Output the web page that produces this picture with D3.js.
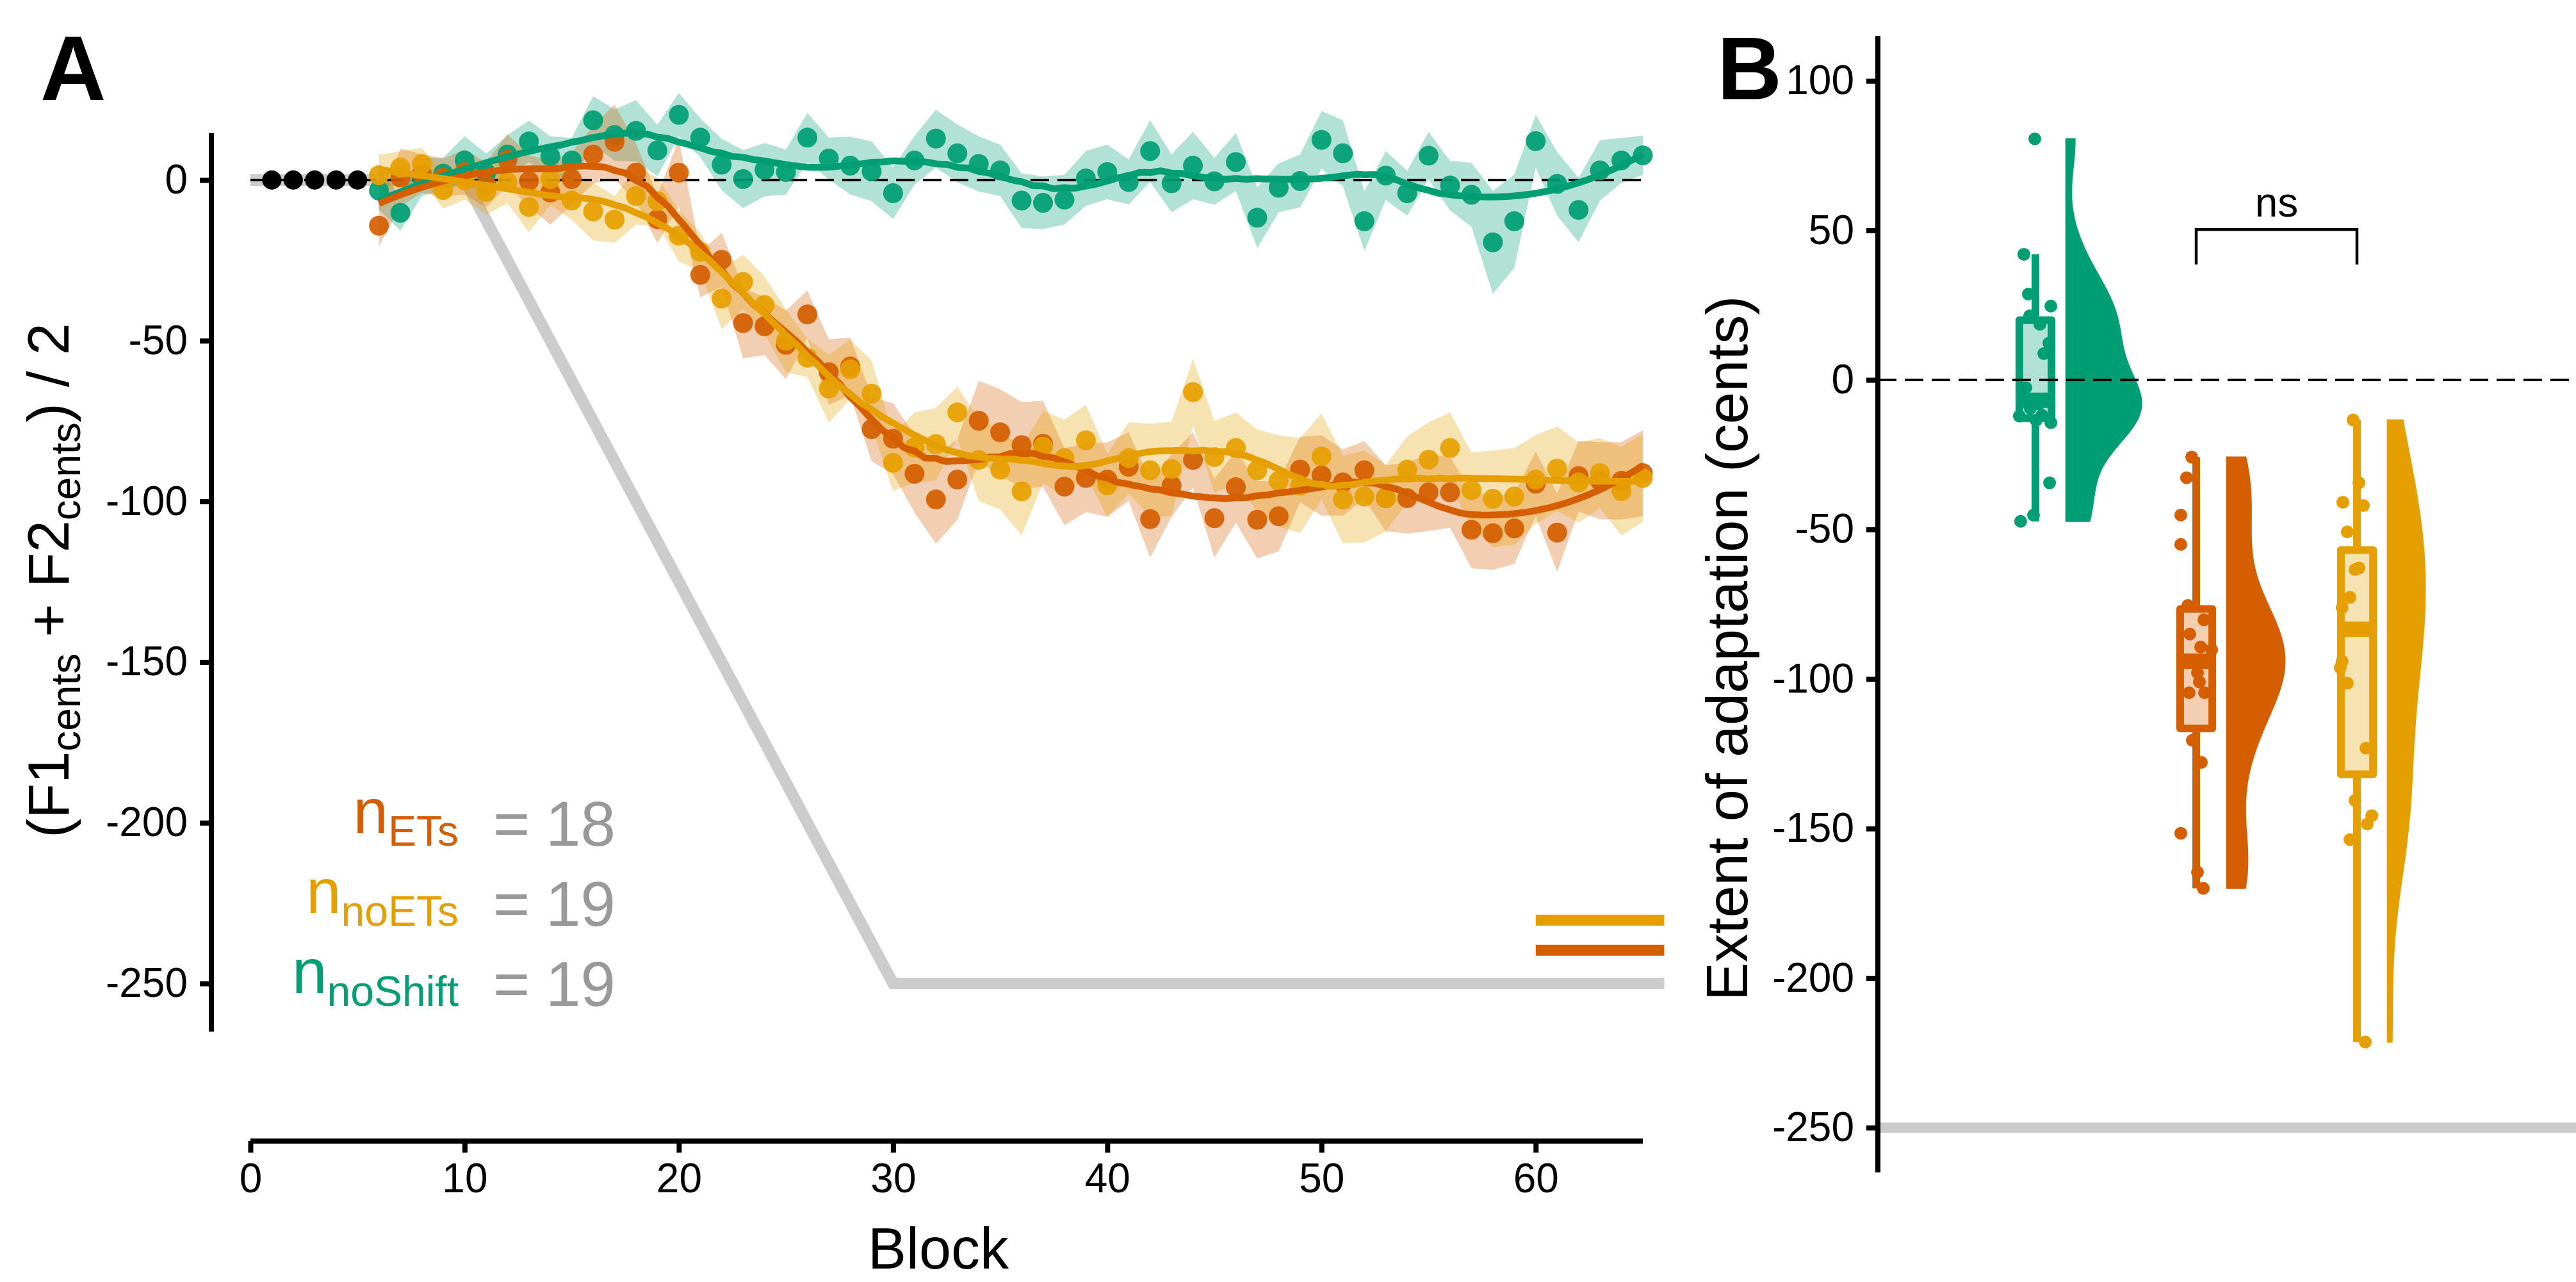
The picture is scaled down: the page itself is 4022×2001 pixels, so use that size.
<!DOCTYPE html>
<html>
<head>
<meta charset="utf-8">
<script src="https://cdn.jsdelivr.net/npm/d3@7"></script>
<style>
  html, body { margin: 0; padding: 0; background: #fff; }
  svg { display: block; font-family: "Liberation Sans", Arial, Helvetica, sans-serif; }
  text { white-space: pre; }
</style>
</head>
<body>
<svg id="chart" width="4022" height="2001"></svg>
<script>
// ---- Panel A data (mean per block, and half-width of the shaded band) ----
const baselineBlocks = [1, 2, 3, 4, 5];
const baselineValues = [0, 0, 0, 0, 0];
const blocks = d3.range(6, 66);

const noShiftMean = [-3.3, -10.2, 1, 2, 6.1, 2.2, 7.9, 12, 7.4, 6.1, 18.6, 14, 15.3, 9.2, 20.3, 13.2, 4.8, 0.3, 3.2, 2.5,
  13.2, 6.7, 4.5, 2.7, -4.1, 6.1, 12.9, 8.3, 5, 3, -6.4, -7.1, -6.1, 0.5, 2.5, -0.6, 9, -1, 4.5, -0.4,
  5.6, -11.7, -2.4, -0.3, 12.5, 8.3, -12.8, 1.4, -4.1, 7.6, -1.7, -4.6, -19.4, -12.8, 12.1, -1.2, -9.3, 3, 6.1, 7.7];
const etsMean = [-14.2, 0.8, 2, 0.7, 2.5, -1.5, 6.3, -0.3, -3.9, 0.3, 7.9, 11.9, 2.3, -12.2, 2.3, -29.5, -24.8, -44.5, -45.5, -51.3,
  -41.8, -59.8, -58, -77.5, -80.5, -91.4, -99.4, -93.2, -74.9, -78.5, -82.5, -82.1, -95.4, -92.7, -93.2, -89.2, -105.5, -95.1, -87.1, -105.2,
  -95.6, -105.7, -104.6, -90.1, -91.9, -94.1, -90.3, -99, -99, -97.2, -97.2, -108.8, -109.9, -108.4, -94.5, -109.7, -92.1, -93.6, -93.6, -91.2];
const noEtsMean = [1.5, 3.9, 5, -3.1, -0.1, -3.7, -0.6, -8.4, 0.3, -6.4, -9.8, -12.3, -5, -6.6, -17.3, -22.4, -36.9, -31.7, -38.9, -50,
  -55.3, -64.9, -58.9, -66.5, -88, -83.2, -82.2, -72.3, -87.1, -90.1, -96.9, -83, -86.5, -81, -95, -86.5, -90.3, -89.9, -66, -86.2,
  -83.4, -90.3, -93.6, -95.1, -86, -99.4, -98.5, -99, -90.1, -87, -83.4, -96.5, -99.2, -98.5, -93.2, -89.8, -94.1, -91.2, -96.8, -92.7];

const noShiftSE = [6, 5.5, 6, 5, 7.5, 6, 6, 6.5, 6.2, 7, 7.5, 8, 9.5, 8, 6.8, 6, 8, 9, 8.3, 7,
  7.7, 6.5, 9, 9.3, 8, 7.6, 9, 9, 8.6, 8, 8.5, 8.2, 7.7, 8.5, 8.5, 7, 9.6, 9, 10.5, 7.3,
  9, 9.5, 7.6, 8.2, 9, 10.3, 9.3, 7.6, 7, 7.4, 7.7, 10, 16, 14.5, 8.2, 9.9, 10, 9.4, 7, 6.1];
const etsSE = [6.4, 9, 6, 6, 7, 7, 8, 8, 10, 8, 9, 11.6, 9, 7.5, 10.5, 7, 8.4, 11, 9, 10.7,
  7.4, 10.2, 9, 10, 11, 12, 13.8, 12.5, 12.4, 13.4, 13.4, 13.4, 12, 10.6, 11.6, 10.7, 12, 9.7, 8.6, 12.3,
  11, 12, 11, 10.2, 12.5, 10.3, 9, 10.3, 11, 12, 11, 12, 11.4, 11, 10, 12.2, 11, 12, 12, 13.4];
const noEtsSE = [6.4, 5, 5, 5.7, 6, 7.1, 6.7, 7.8, 8, 6, 9, 7.2, 9, 7.4, 8, 6, 9.5, 8.4, 8.9, 9.8,
  6, 10.5, 9.3, 10.3, 8.8, 10.9, 11.3, 8, 12.8, 12.4, 13.7, 11.2, 12, 11, 9.8, 11.1, 14.5, 14.7, 10.4, 11.2,
  11.1, 12.7, 14.2, 14.8, 13.4, 13.6, 14.3, 10.3, 10.3, 11.6, 11.1, 11.7, 15, 15.1, 13.8, 13.1, 12.5, 10.9, 13.8, 13.7];

// perturbation profile and final shift markers
const perturbBlocks = [0, 10, 30, 66];
const perturbValues = [0, 0, -250, -250];
const shiftGroups = ['noETs', 'ETs'];
const shiftValues = [-230.3, -239.7];
const shiftBlocks = [60, 66];

const nGroups = ['ETs', 'noETs', 'noShift'];
const nCounts = [18, 19, 19];

const xTicksA = [0, 10, 20, 30, 40, 50, 60];
const yTicksA = [0, -50, -100, -150, -200, -250];

// ---- Panel B data (extent of adaptation per participant) ----
const groupsB = ['noShift', 'ETs', 'noETs'];
const extentNoShift = [-47.3, -45.2, -34.4, -14.3, -13.5, -12.1, -11.8, -9.5, -8.0, -6.8, -2.6, 8.8, 12.3, 18.6, 21.4, 24.7, 28.7, 42.0, 80.6];
const extentEts = [-170, -164.6, -151.6, -127.9, -120.5, -104.6, -104.6, -101, -97.9, -90.2, -89.3, -85, -80.2, -75.4, -55, -45.2, -32.7, -25.8];
const extentNoEts = [-221.4, -153.7, -148.5, -145.7, -140.6, -123.1, -101.4, -96.2, -94.1, -83.4, -76.1, -72.7, -63.4, -62.9, -50.8, -42, -40.9, -34.4, -13.4];
// horizontal jitter of the dots, in group units
const jitterNoShift = [-0.092, -0.012, 0.088, 0.096, 0.004, -0.1, 0.04, -0.032, 0.02, -0.06, -0.06, 0.052, 0.084, 0.028, -0.036, 0.096, -0.044, -0.072, -0.004];
const jitterEts = [0.044, 0.008, -0.096, 0.032, -0.024, -0.044, 0.052, 0.02, 0.008, 0.096, 0.028, -0.04, 0.048, -0.052, -0.096, -0.096, -0.06, -0.028];
const jitterNoEts = [0.052, -0.044, 0.064, 0.092, -0.012, 0.056, -0.06, -0.104, -0.092, 0, -0.092, -0.044, -0.012, 0.012, -0.06, 0.04, -0.088, 0.012, -0.024];
const yTicksB = [100, 50, 0, -50, -100, -150, -200, -250];

const colors = { noShift: '#009E73', ETs: '#D55E00', noETs: '#E69F00' };
const grey = '#cccccc';

const svg = d3.select('#chart');

/**
 * Local quadratic loess (tricube weights), evaluated on a grid.
 */
const loess = function (xs, ys, span, grid) {
  const q = Math.floor(span * xs.length);
  const det3 = (m) => m[0][0] * (m[1][1] * m[2][2] - m[1][2] * m[2][1])
    - m[0][1] * (m[1][0] * m[2][2] - m[1][2] * m[2][0])
    + m[0][2] * (m[1][0] * m[2][1] - m[1][1] * m[2][0]);
  return grid.map((x0) => {
    const dist = xs.map((x) => Math.abs(x - x0));
    const h = dist.slice().sort((a, b) => a - b)[q - 1];
    const s = [0, 0, 0, 0, 0];
    const r = [0, 0, 0];
    xs.forEach((x, i) => {
      const u = dist[i] / h;
      if (u >= 1) return;
      const w = Math.pow(1 - u * u * u, 3);
      const t = x - x0;
      s[0] += w; s[1] += w * t; s[2] += w * t * t; s[3] += w * t * t * t; s[4] += w * t * t * t * t;
      r[0] += w * ys[i]; r[1] += w * t * ys[i]; r[2] += w * t * t * ys[i];
    });
    const M = [[s[0], s[1], s[2]], [s[1], s[2], s[3]], [s[2], s[3], s[4]]];
    const Mx = [[r[0], s[1], s[2]], [r[1], s[2], s[3]], [r[2], s[3], s[4]]];
    return [x0, det3(Mx) / det3(M)];
  });
};

/**
 * Gaussian kernel density with the nrd0 bandwidth, trimmed to the data range.
 */
const density = function (values) {
  const v = values.slice().sort(d3.ascending);
  const iqr = d3.quantile(v, 0.75) - d3.quantile(v, 0.25);
  const bw = 0.9 * Math.min(d3.deviation(v), iqr / 1.34) * Math.pow(v.length, -0.2);
  const lo = v[0];
  const hi = v[v.length - 1];
  return d3.range(512).map((i) => {
    const y = lo + (hi - lo) * i / 511;
    const d = d3.mean(v, (p) => Math.exp(-0.5 * ((y - p) / bw) ** 2)) / (bw * Math.sqrt(2 * Math.PI));
    return [y, d];
  });
};

// =================== Panel A ===================
const xA = d3.scaleLinear().domain([0, 65]).range([391, 2565]);
const yA = d3.scaleLinear().domain([0, -250]).range([281, 1535]);

const panelA = svg.append('g');

// perturbation profile
panelA.append('path')
  .datum(perturbBlocks.map((b, i) => [b, perturbValues[i]]))
  .attr('d', d3.line().x((d) => xA(d[0])).y((d) => yA(d[1])))
  .attr('fill', 'none')
  .attr('stroke', grey)
  .attr('stroke-width', 18);

// shift markers at the right edge
shiftGroups.forEach((g, i) => {
  panelA.append('line')
    .attr('x1', xA(shiftBlocks[0]))
    .attr('x2', xA(shiftBlocks[1]))
    .attr('y1', yA(shiftValues[i]))
    .attr('y2', yA(shiftValues[i]))
    .attr('stroke', colors[g])
    .attr('stroke-width', 17);
});

const seriesA = [
  { key: 'noShift', mean: noShiftMean, se: noShiftSE },
  { key: 'ETs', mean: etsMean, se: etsSE },
  { key: 'noETs', mean: noEtsMean, se: noEtsSE }
];

// shaded bands
seriesA.forEach((s) => {
  panelA.append('path')
    .datum(blocks.map((b, i) => ({ b, lo: s.mean[i] - s.se[i], hi: s.mean[i] + s.se[i] })))
    .attr('d', d3.area().x((d) => xA(d.b)).y0((d) => yA(d.lo)).y1((d) => yA(d.hi)))
    .attr('fill', colors[s.key])
    .attr('fill-opacity', 0.3);
});

// zero reference
panelA.append('line')
  .attr('x1', xA(0))
  .attr('x2', xA(65))
  .attr('y1', yA(0))
  .attr('y2', yA(0))
  .attr('stroke', 'black')
  .attr('stroke-width', 4)
  .attr('stroke-dasharray', '29,13');

// baseline dots
panelA.selectAll('circle.base')
  .data(baselineBlocks.map((b, i) => [b, baselineValues[i]]))
  .join('circle')
  .attr('class', 'base')
  .attr('cx', (d) => xA(d[0]))
  .attr('cy', (d) => yA(d[1]))
  .attr('r', 15)
  .attr('fill', 'black');

// per-block dots
seriesA.forEach((s) => {
  panelA.append('g')
    .selectAll('circle')
    .data(blocks.map((b, i) => [b, s.mean[i]]))
    .join('circle')
    .attr('cx', (d) => xA(d[0]))
    .attr('cy', (d) => yA(d[1]))
    .attr('r', 15.5)
    .attr('fill', colors[s.key])
    .attr('fill-opacity', 0.92);
});

// smooth fits
const grid = d3.range(6, 65.001, 0.25);
seriesA.forEach((s) => {
  panelA.append('path')
    .datum(loess(blocks, s.mean, 0.3, grid))
    .attr('d', d3.line().x((d) => xA(d[0])).y((d) => yA(d[1])))
    .attr('fill', 'none')
    .attr('stroke', colors[s.key])
    .attr('stroke-width', 10.5);
});

// axes
const styleAxis = (g) => {
  g.select('.domain').attr('stroke', 'black').attr('stroke-width', 8);
  g.selectAll('.tick line').attr('stroke', 'black').attr('stroke-width', 8);
  g.selectAll('.tick text').attr('fill', 'black').attr('font-size', 64).attr('font-family', null);
};

const yAxisA = panelA.append('g')
  .attr('transform', 'translate(330,0)')
  .call(d3.axisLeft(yA).tickValues(yTicksA).tickSize(18).tickPadding(19).tickFormat((d) => String(d)));
yAxisA.select('.domain').attr('d', `M0,${yA(14.6)}V${yA(-265)}`);
styleAxis(yAxisA);

const xAxisA = panelA.append('g')
  .attr('transform', 'translate(0,1781)')
  .call(d3.axisBottom(xA).tickValues(xTicksA).tickSize(18).tickPadding(17).tickFormat((d) => String(d)));
xAxisA.select('.domain').attr('d', `M${xA(0)},0H${xA(65)}`);
styleAxis(xAxisA);

// axis titles
panelA.append('text')
  .attr('x', 1465)
  .attr('y', 1980)
  .attr('text-anchor', 'middle')
  .attr('font-size', 90)
  .text('Block');

const yTitleA = panelA.append('text')
  .attr('transform', 'translate(107,906) rotate(-90)')
  .attr('text-anchor', 'middle')
  .attr('font-size', 90);
yTitleA.append('tspan').text('(F1');
yTitleA.append('tspan').attr('font-size', 64).attr('dy', 18).text('cents');
yTitleA.append('tspan').attr('dy', -18).text(' + F2');
yTitleA.append('tspan').attr('font-size', 64).attr('dy', 18).text('cents');
yTitleA.append('tspan').attr('dy', -18).text(') / 2');

// sample sizes
nGroups.forEach((g, i) => {
  const base = 1320 + i * 125;
  const lab = panelA.append('text')
    .attr('x', 716)
    .attr('y', base)
    .attr('text-anchor', 'end')
    .attr('fill', colors[g]);
  lab.append('tspan').attr('font-size', 98).attr('dy', -20).text('n');
  lab.append('tspan').attr('font-size', 66).attr('dy', 20).text(g);
  panelA.append('text')
    .attr('x', 770)
    .attr('y', base)
    .attr('font-size', 98)
    .attr('fill', '#999999')
    .text('=');
  panelA.append('text')
    .attr('x', 852)
    .attr('y', base)
    .attr('font-size', 98)
    .attr('fill', '#999999')
    .text(String(nCounts[i]));
});

svg.append('text')
  .attr('x', 63)
  .attr('y', 156)
  .attr('font-size', 142)
  .attr('font-weight', 'bold')
  .text('A');

// =================== Panel B ===================
const yB = d3.scaleLinear().domain([0, -250]).range([593, 1760]);
const xB = d3.scaleLinear().domain([1, 3]).range([3178, 3680]);
const panelB = svg.append('g');

const seriesB = [
  { key: 'noShift', values: extentNoShift, jitter: jitterNoShift },
  { key: 'ETs', values: extentEts, jitter: jitterEts },
  { key: 'noETs', values: extentNoEts, jitter: jitterNoEts }
];

// target line
panelB.append('line')
  .attr('x1', 2932)
  .attr('x2', 4022)
  .attr('y1', yB(-250))
  .attr('y2', yB(-250))
  .attr('stroke', grey)
  .attr('stroke-width', 16);

// half violins (area scaled across groups)
const dens = seriesB.map((s) => density(s.values));
const maxDens = d3.max(dens, (d) => d3.max(d, (p) => p[1]));
const violinWidth = 0.47;
seriesB.forEach((s, i) => {
  const x0 = xB(i + 1 + 0.19);
  const wScale = d3.scaleLinear().domain([0, maxDens]).range([x0, xB(i + 1 + 0.19 + violinWidth)]);
  panelB.append('path')
    .datum(dens[i])
    .attr('d', d3.area().y((d) => yB(d[0])).x0(x0).x1((d) => wScale(d[1])))
    .attr('fill', colors[s.key])
    .attr('stroke', colors[s.key])
    .attr('stroke-width', 2)
    .attr('stroke-linejoin', 'round');
});

// box plots
seriesB.forEach((s, i) => {
  const v = s.values.slice().sort(d3.ascending);
  const q1 = d3.quantile(v, 0.25);
  const med = d3.quantile(v, 0.5);
  const q3 = d3.quantile(v, 0.75);
  const iqr = q3 - q1;
  const wLo = d3.min(v.filter((p) => p >= q1 - 1.5 * iqr));
  const wHi = d3.max(v.filter((p) => p <= q3 + 1.5 * iqr));
  const cx = xB(i + 1);
  const half = xB(1.1) - xB(1);
  const g = panelB.append('g').attr('stroke', colors[s.key]);
  g.append('line').attr('x1', cx).attr('x2', cx).attr('y1', yB(q3)).attr('y2', yB(wHi)).attr('stroke-width', 12);
  g.append('line').attr('x1', cx).attr('x2', cx).attr('y1', yB(q1)).attr('y2', yB(wLo)).attr('stroke-width', 12);
  g.append('rect')
    .attr('x', cx - half)
    .attr('y', yB(q3))
    .attr('width', half * 2)
    .attr('height', yB(q1) - yB(q3))
    .attr('fill', colors[s.key])
    .attr('fill-opacity', 0.3)
    .attr('stroke-width', 12)
    .attr('stroke-linejoin', 'round');
  g.append('line').attr('x1', cx - half).attr('x2', cx + half).attr('y1', yB(med)).attr('y2', yB(med)).attr('stroke-width', 24);
});

// zero reference
panelB.append('line')
  .attr('x1', 2932)
  .attr('x2', 4022)
  .attr('y1', yB(0))
  .attr('y2', yB(0))
  .attr('stroke', 'black')
  .attr('stroke-width', 4)
  .attr('stroke-dasharray', '29,13');

// jittered participant dots
seriesB.forEach((s, i) => {
  panelB.append('g')
    .selectAll('circle')
    .data(s.values.map((v, j) => [i + 1 + s.jitter[j], v]))
    .join('circle')
    .attr('cx', (d) => xB(d[0]))
    .attr('cy', (d) => yB(d[1]))
    .attr('r', 10)
    .attr('fill', colors[s.key]);
});

// significance bracket
panelB.append('path')
  .attr('d', `M${xB(2)},${yB(38.6)}V${yB(50.3)}H${xB(3)}V${yB(38.6)}`)
  .attr('fill', 'none')
  .attr('stroke', 'black')
  .attr('stroke-width', 4.5);
panelB.append('text')
  .attr('x', (xB(2) + xB(3)) / 2)
  .attr('y', 338)
  .attr('text-anchor', 'middle')
  .attr('font-size', 64)
  .text('ns');

const yAxisB = panelB.append('g')
  .attr('transform', 'translate(2932,0)')
  .call(d3.axisLeft(yB).tickValues(yTicksB).tickSize(18).tickPadding(19).tickFormat((d) => String(d)));
yAxisB.select('.domain').attr('d', `M0,${yB(115)}V${yB(-265)}`);
styleAxis(yAxisB);

panelB.append('text')
  .attr('transform', 'translate(2728,1012) rotate(-90)')
  .attr('text-anchor', 'middle')
  .attr('font-size', 90)
  .text('Extent of adaptation (cents)');

svg.append('text')
  .attr('x', 2681)
  .attr('y', 155)
  .attr('font-size', 140)
  .attr('font-weight', 'bold')
  .text('B');
</script>
</body>
</html>
